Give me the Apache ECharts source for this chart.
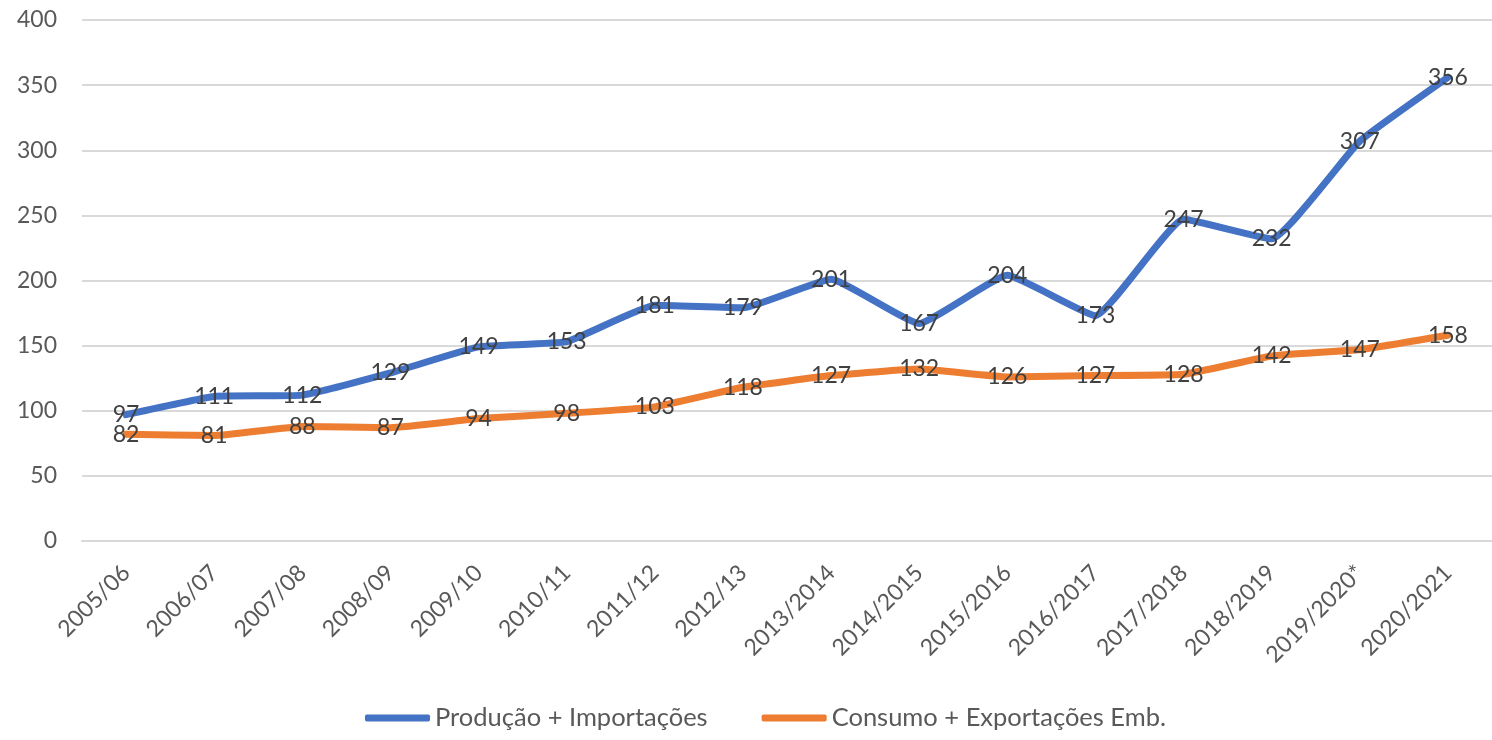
<!DOCTYPE html>
<html>
<head>
<meta charset="utf-8">
<script src="https://cdn.jsdelivr.net/npm/echarts@6/dist/echarts.min.js"></script>
<style>
html,body{margin:0;padding:0;background:#fff;}
#c{width:1492px;height:740px;}
</style>
</head>
<body>
<div id="c"></div>
<script>
const categories = ['2005/06','2006/07','2007/08','2008/09','2009/10','2010/11','2011/12','2012/13','2013/2014','2014/2015','2015/2016','2016/2017','2017/2018','2018/2019','2019/2020*','2020/2021'];
const producaoImportacoes = [97,111,112,129,149,153,181,179,201,167,204,173,247,232,307,356];
const consumoExportacoes = [82,81,88,87,94,98,103,118,127,132,126,127,128,142,147,158];
const seriesNames = ['Produção + Importações','Consumo + Exportações Emb.'];
const yTicks = {min:0, max:400, interval:50};

const FONT = 'Lato';
const chart = echarts.init(document.getElementById('c'), null, {renderer:'canvas'});
function lineSeries(name, data, color){
  return {
    name, type:'line', data,
    smooth:0.12,
    symbol:'circle', symbolSize:0.1,
    itemStyle:{color},
    lineStyle:{color, width:7, cap:'round', join:'round'},
    label:{show:true, position:'inside', color:'#404040', fontSize:23, fontFamily:FONT},
    emphasis:{disabled:true}
  };
}
chart.setOption({
  animation:false,
  backgroundColor:'#fff',
  grid:{left:82, top:20, width:1416, bottom:199, containLabel:false},
  legend:{
    bottom:4, left:360,
    itemWidth:65, itemHeight:7, itemGap:54,
    icon:'roundRect',
    textStyle:{color:'#595959', fontSize:25.5, fontFamily:FONT, padding:[0,0,0,0]},
    data:seriesNames
  },
  xAxis:{
    type:'category', data:categories, boundaryGap:true,
    axisLine:{show:true, lineStyle:{color:'#d9d9d9', width:2}},
    axisTick:{show:false},
    axisLabel:{rotate:45, margin:28, color:'#595959', fontSize:23, fontFamily:FONT, interval:0}
  },
  yAxis:{
    type:'value', min:yTicks.min, max:yTicks.max, interval:yTicks.interval,
    axisLine:{show:false}, axisTick:{show:false},
    splitLine:{lineStyle:{color:'#d9d9d9', width:2}},
    axisLabel:{margin:25, color:'#595959', fontSize:23, fontFamily:FONT}
  },
  series:[
    lineSeries(seriesNames[0], producaoImportacoes, '#4472C4'),
    lineSeries(seriesNames[1], consumoExportacoes, '#ED7D31')
  ]
});
</script>
</body>
</html>
